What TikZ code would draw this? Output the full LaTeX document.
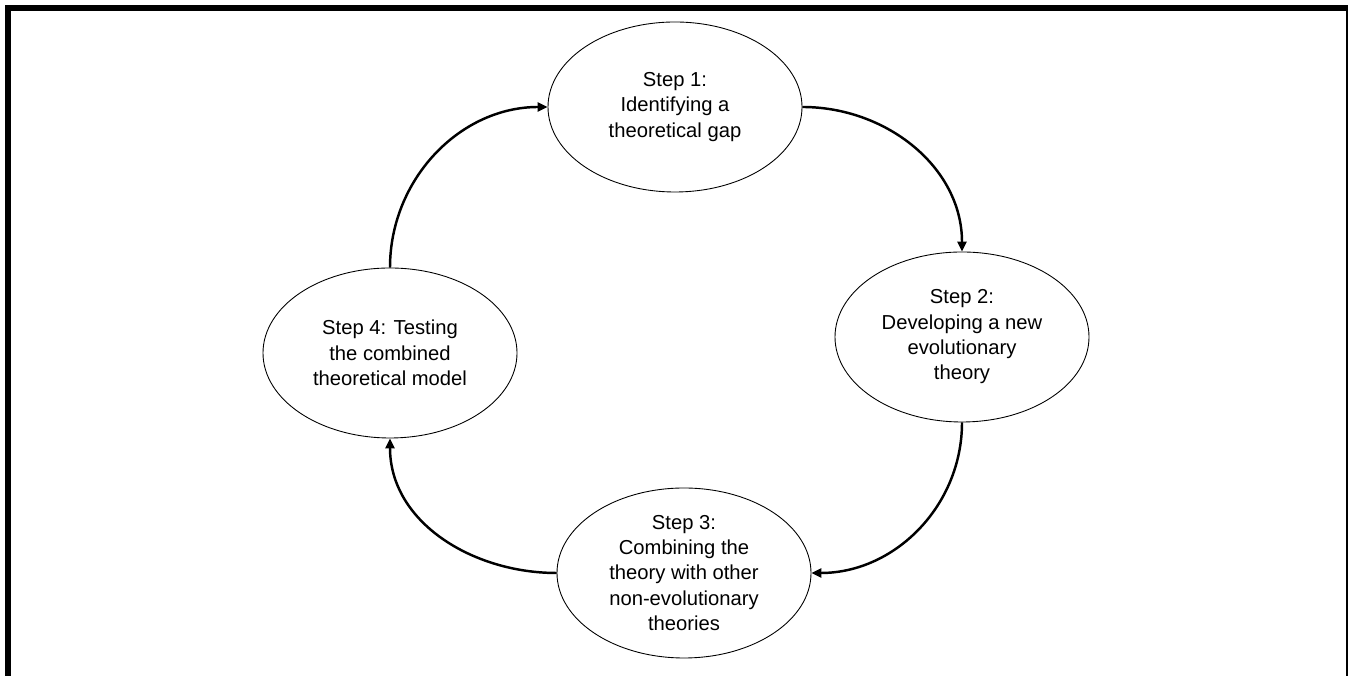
\documentclass[tikz,border=0pt]{standalone}
\usepackage{fontspec}
\setmainfont{Liberation Sans}
\usetikzlibrary{shapes.geometric, arrows.meta}

\tikzset{
  stepnode/.style={ellipse, draw, line width=0.5pt, inner sep=0pt,
                   minimum width=5.08cm, minimum height=3.4cm,
                   align=center, font=\fontsize{11.5}{14.4}\selectfont},
  cycarrow/.style={line width=1.4pt, -{Triangle[length=2mm, width=1.8mm]}}
}

\begin{document}
\begin{tikzpicture}
  \useasboundingbox (0, 0) rectangle (26.96, 13.52);
  \clip (0, 0) rectangle (26.96, 13.52);

  % open frame
  \draw[line width=0.12cm] (0.16, -1) -- (0.16, 13.36) -- (26.98, 13.36) -- (26.98, -1);

  \node[stepnode] (step1) at (13.5, 11.38)
    {Step 1:\\Identifying a\\theoretical gap};
  \node[stepnode] (step2) at (19.24, 6.78)
    {Step 2:\\Developing a new\\evolutionary\\theory};
  \node[stepnode] (step3) at (13.68, 2.06)
    {Step 3:\\Combining the\\theory with other\\non-evolutionary\\theories};
  \node[stepnode] (step4) at (7.8, 6.46)
    {Step 4: Testing\\the combined\\theoretical model};

  \draw[cycarrow] (step4.north) to[out=90, in=180] (step1.west);
  \draw[cycarrow] (step1.east) to[out=0, in=90] (step2.north);
  \draw[cycarrow] (step2.south) to[out=-90, in=0] (step3.east);
  \draw[cycarrow] (step3.west) to[out=180, in=-90] (step4.south);
\end{tikzpicture}
\end{document}
